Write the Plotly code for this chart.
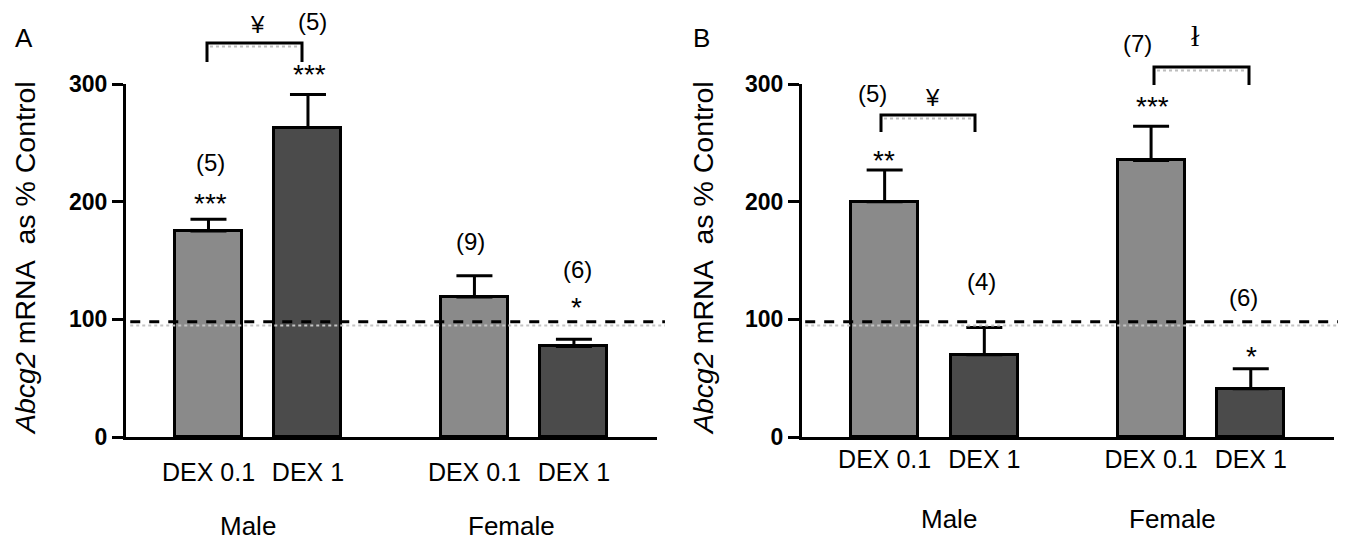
import plotly.graph_objects as go

# ---------------- data ----------------
groups = ["Male", "Female"]
treat = ["DEX 0.1", "DEX 1", "DEX 0.1", "DEX 1"]

A_mean = [175, 263, 119, 77]
A_sem = [10, 28, 18, 6]
A_n = ["(5)", "(5)", "(9)", "(6)"]
A_sig = ["***", "***", "", "*"]

B_mean = [200, 70, 235, 41]
B_sem = [27, 23, 29, 17]
B_n = ["(5)", "(4)", "(7)", "(6)"]
B_sig = ["**", "", "***", "*"]

control_level = 98
y_ticks = [0, 100, 200, 300]

# ---------------- layout constants ----------------
OFF = 8                      # default page margin of the browser
W, H = 1346 - OFF, 542 - OFF  # figure size so the page fills the window
POS = [0, 1, 2.673, 3.673]
BAR_W = 0.673
XR = [-0.829, 4.508]
Y0_PX, Y300_PX = 437, 84
AX_A = (126, 657)
AX_B = (802, 1334)
LIGHT = "#8a8a8a"
DARK = "#4b4b4b"
FONT = "Liberation Sans"


def px2y(py):
    return (Y0_PX - py) * 300.0 / (Y0_PX - Y300_PX)


def PX(px):
    return (px - OFF) / W


def PY(py):
    return 1 - (py - OFF) / H


fig = go.Figure()


def add_panel(mean, sem, xa, ya):
    for idx, col in (([0, 2], LIGHT), ([1, 3], DARK)):
        fig.add_trace(go.Bar(
            x=[POS[i] for i in idx], y=[mean[i] for i in idx],
            width=BAR_W, marker=dict(color=col, line=dict(color="black", width=3)),
            error_y=dict(type="data", symmetric=False,
                         array=[sem[i] for i in idx], arrayminus=[0, 0],
                         color="black", thickness=3, width=18),
            xaxis=xa, yaxis=ya, showlegend=False, hoverinfo="skip"))


add_panel(A_mean, A_sem, "x", "y")
add_panel(B_mean, B_sem, "x2", "y2")

ydom = [PY(Y0_PX), PY(Y300_PX)]
xaxis_common = dict(range=XR, showline=True, linewidth=3, linecolor="black",
                    ticks="", tickvals=POS, ticktext=treat, showgrid=False,
                    zeroline=False, automargin=False,
                    tickfont=dict(family=FONT, size=25, color="black"))
yaxis_common = dict(range=[0, 300], tickvals=y_ticks, showline=True, linewidth=3,
                    linecolor="black", ticks="outside", ticklen=11, tickwidth=3,
                    tickcolor="black", showgrid=False, zeroline=False, automargin=False,
                    tickfont=dict(family=FONT, size=23, color="black", weight="bold"))

fig.update_layout(
    template="none",
    width=W, height=H, margin=dict(l=0, r=0, t=0, b=0, pad=0),
    plot_bgcolor="white", paper_bgcolor="white", bargap=0,
    xaxis=dict(domain=[PX(AX_A[0]), PX(AX_A[1])], anchor="y", ticklabelstandoff=11, **xaxis_common),
    yaxis=dict(domain=ydom, anchor="x", **yaxis_common),
    xaxis2=dict(domain=[PX(AX_B[0]), PX(AX_B[1])], anchor="y2", ticklabelstandoff=-2, **xaxis_common),
    yaxis2=dict(domain=ydom, anchor="x2", **yaxis_common),
)

shapes = []
for xr_, yr_, x0d, x1d in (("x domain", "y", 0.008, 1.015), ("x2 domain", "y2", 0.006, 1.02)):
    shapes.append(dict(type="line", xref=xr_, yref=yr_, x0=x0d, x1=x1d,
                       y0=px2y(325.5), y1=px2y(325.5),
                       line=dict(color="#c4c4c4", width=2, dash="dot")))
    shapes.append(dict(type="line", xref=xr_, yref=yr_, x0=x0d, x1=x1d,
                       y0=control_level, y1=control_level,
                       line=dict(color="black", width=3, dash="10px,9px")))


def bracket(px0, px1, top_py, foot_py):
    shapes.append(dict(type="path", xref="paper", yref="paper",
                       path=f"M {PX(px0)},{PY(foot_py)} L {PX(px0)},{PY(top_py)} "
                            f"L {PX(px1)},{PY(top_py)} L {PX(px1)},{PY(foot_py)}",
                       line=dict(color="black", width=3)))
    shapes.append(dict(type="line", xref="paper", yref="paper",
                       x0=PX(px0 + 3), x1=PX(px1 - 2), y0=PY(top_py + 3.5), y1=PY(top_py + 3.5),
                       line=dict(color="#bdbdbd", width=2, dash="dot")))


bracket(207, 302, 43, 62)
bracket(881, 975, 115, 132)
bracket(1154, 1249, 67, 85)
fig.update_layout(shapes=shapes)

ann = []


def txt(text, px, py, size, family=FONT, angle=0):
    ann.append(dict(text=text, xref="paper", yref="paper", x=PX(px), y=PY(py),
                    showarrow=False, xanchor="center", yanchor="middle", textangle=angle,
                    font=dict(family=family, size=size, color="black")))


# panel A labels
txt(A_n[0], 210, 162, 24)
txt(A_sig[0], 210, 203, 28)
txt(A_n[1], 312, 22, 24)
txt(A_sig[1], 309, 75, 28)
txt("¥", 257, 25, 24)
txt(A_n[2], 470, 241, 24)
txt(A_n[3], 577, 269, 24)
txt(A_sig[3], 576, 307, 28)
# panel B labels
txt(B_n[0], 872, 94, 24)
txt(B_sig[0], 884, 160, 28)
txt("¥", 932, 98, 24)
txt(B_n[1], 981, 281, 24)
txt(B_n[2], 1137, 44, 24)
txt("ł", 1195, 35, 30, "Liberation Serif")
txt(B_sig[2], 1152, 106, 28)
txt(B_n[3], 1243, 297, 24)
txt(B_sig[3], 1251, 356, 28)

# group labels
for gname, px, py in ((groups[0], 248, 526), (groups[1], 511, 526),
                      (groups[0], 949, 519), (groups[1], 1172, 519)):
    txt(gname, px, py, 26)

# panel letters and y titles
txt("A", 24, 38, 26)
txt("B", 701, 38, 26)
for px in (25, 703):
    txt("<i>Abcg2</i> mRNA\u00a0 as % Control", px, 258, 28.5, angle=-90)

fig.update_layout(annotations=ann)
fig.update_traces(cliponaxis=False)
fig.write_html("out.html")
